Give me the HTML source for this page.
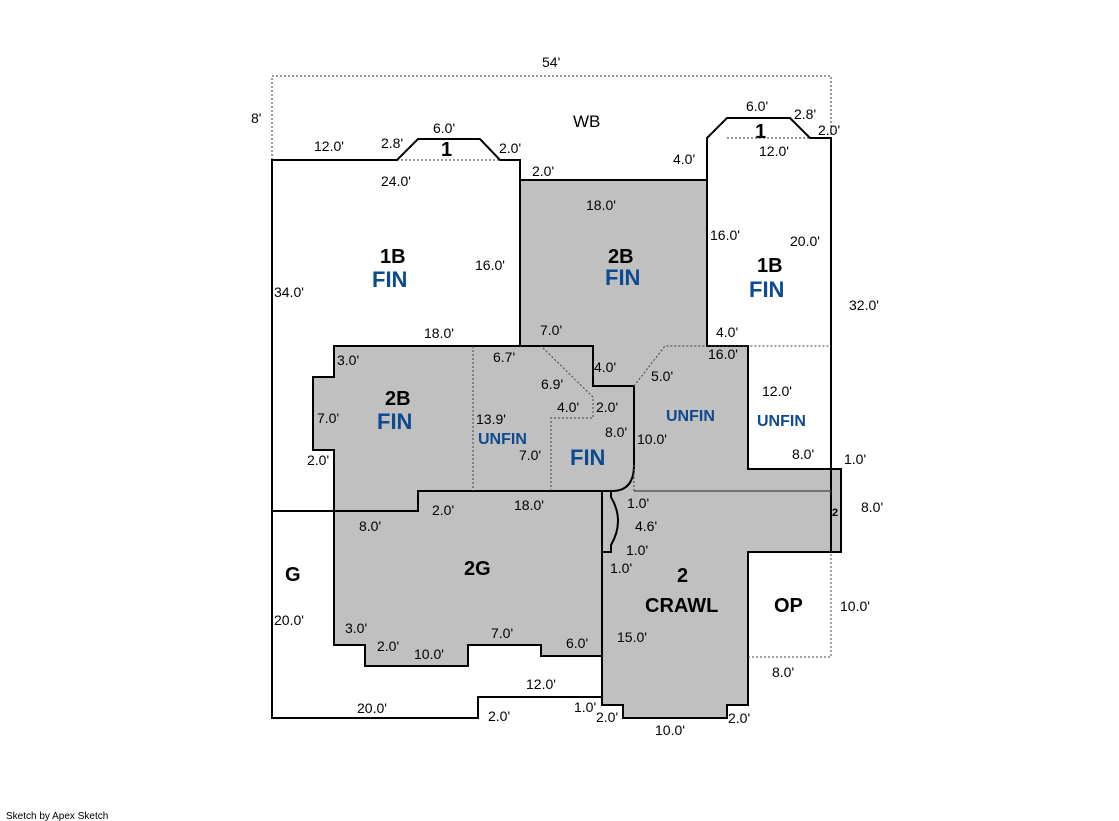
<!DOCTYPE html>
<html><head><meta charset="utf-8"><style>
html,body{margin:0;padding:0;background:#fff;}
svg{display:block;font-family:"Liberation Sans",Arial,sans-serif;}
.d{font-size:14px;fill:#000;}
.b{font-size:20px;font-weight:bold;fill:#000;}
.f{font-size:22px;font-weight:bold;fill:#0d4a8f;}
.u{font-size:16px;font-weight:bold;fill:#0d4a8f;}
</style></head><body>
<svg width="1119" height="821" viewBox="0 0 1119 821">
<g fill="none" stroke="#333" stroke-width="1" stroke-dasharray="2,2">
<path d="M272 160V76H831V138"/>
<path d="M397 160H500M727 138H810"/>
</g>
<path d="M334 346H520V180H707V346H748V469H841V552H748V705H727V718H623V705H602V656H541V645H468V666H365V645H334V450H313V377H334Z" fill="#c0c0c0" stroke="#000" stroke-width="2"/>
<g fill="none" stroke="#000" stroke-width="2">
<path d="M272 511V160H397L418 139H480L500 160H520V180"/>
<path d="M707 346V138L727 118H790L810 138H831V469"/>
<path d="M272 511V718H478V697H602"/>
<path d="M272 511H418V491H615"/>
<path d="M520 346H593V386H634V465Q634 491 612 491"/>
<path d="M602 491V552H611V545Q625 521 611 497V491"/>
<path d="M602 552V705"/>
<path d="M831 469V552"/>
</g>
<path d="M634 491H831" stroke="#555" stroke-width="1.5"/>
<g fill="none" stroke="#444" stroke-width="1" stroke-dasharray="2,2">
<path d="M473 346V491M551 491V418H593V397L541 346M634 386L665 346H831M634 465V491M748 657H831V552"/>
</g>
<g class="d">
<text x="542" y="67">54'</text>
<text x="251" y="123">8'</text>
<text x="314" y="151">12.0'</text>
<text x="381" y="148">2.8'</text>
<text x="433" y="133">6.0'</text>
<text x="499" y="153">2.0'</text>
<text x="381" y="186">24.0'</text>
<text x="532" y="176">2.0'</text>
<text x="673" y="164">4.0'</text>
<text x="746" y="111">6.0'</text>
<text x="794" y="119">2.8'</text>
<text x="818" y="135">2.0'</text>
<text x="759" y="156">12.0'</text>
<text x="586" y="210">18.0'</text>
<text x="475" y="270">16.0'</text>
<text x="710" y="240">16.0'</text>
<text x="790" y="246">20.0'</text>
<text x="274" y="297">34.0'</text>
<text x="849" y="310">32.0'</text>
<text x="424" y="338">18.0'</text>
<text x="540" y="335">7.0'</text>
<text x="716" y="337">4.0'</text>
<text x="708" y="359">16.0'</text>
<text x="337" y="365">3.0'</text>
<text x="493" y="362">6.7'</text>
<text x="594" y="372">4.0'</text>
<text x="651" y="381">5.0'</text>
<text x="541" y="389">6.9'</text>
<text x="762" y="396">12.0'</text>
<text x="557" y="412">4.0'</text>
<text x="596" y="412">2.0'</text>
<text x="317" y="423">7.0'</text>
<text x="476" y="424">13.9'</text>
<text x="605" y="437">8.0'</text>
<text x="637" y="444">10.0'</text>
<text x="519" y="460">7.0'</text>
<text x="307" y="465">2.0'</text>
<text x="792" y="459">8.0'</text>
<text x="844" y="464">1.0'</text>
<text x="514" y="510">18.0'</text>
<text x="627" y="508">1.0'</text>
<text x="432" y="515">2.0'</text>
<text x="861" y="512">8.0'</text>
<text x="359" y="531">8.0'</text>
<text x="635" y="531">4.6'</text>
<text x="626" y="555">1.0'</text>
<text x="610" y="573">1.0'</text>
<text x="840" y="611">10.0'</text>
<text x="274" y="625">20.0'</text>
<text x="345" y="633">3.0'</text>
<text x="491" y="638">7.0'</text>
<text x="617" y="642">15.0'</text>
<text x="377" y="651">2.0'</text>
<text x="566" y="648">6.0'</text>
<text x="414" y="659">10.0'</text>
<text x="772" y="677">8.0'</text>
<text x="526" y="689">12.0'</text>
<text x="357" y="713">20.0'</text>
<text x="574" y="712">1.0'</text>
<text x="488" y="721">2.0'</text>
<text x="596" y="722">2.0'</text>
<text x="728" y="723">2.0'</text>
<text x="655" y="735">10.0'</text>
</g>
<text x="573" y="127" style="font-size:17px">WB</text>
<text x="441" y="156" class="b">1</text>
<text x="755" y="138" class="b">1</text>
<text x="380" y="263" class="b">1B</text>
<text x="372" y="287" class="f">FIN</text>
<text x="608" y="263" class="b">2B</text>
<text x="605" y="285" class="f">FIN</text>
<text x="757" y="272" class="b">1B</text>
<text x="749" y="297" class="f">FIN</text>
<text x="385" y="405" class="b">2B</text>
<text x="377" y="429" class="f">FIN</text>
<text x="666" y="421" class="u">UNFIN</text>
<text x="757" y="426" class="u">UNFIN</text>
<text x="478" y="444" class="u">UNFIN</text>
<text x="570" y="465" class="f">FIN</text>
<text x="832" y="516" style="font-size:11px;font-weight:bold">2</text>
<text x="285" y="581" class="b">G</text>
<text x="464" y="575" class="b">2G</text>
<text x="677" y="582" class="b">2</text>
<text x="645" y="612" class="b">CRAWL</text>
<text x="774" y="612" class="b">OP</text>
<text x="6" y="819" style="font-size:10px">Sketch by Apex Sketch</text>
</svg>
</body></html>
